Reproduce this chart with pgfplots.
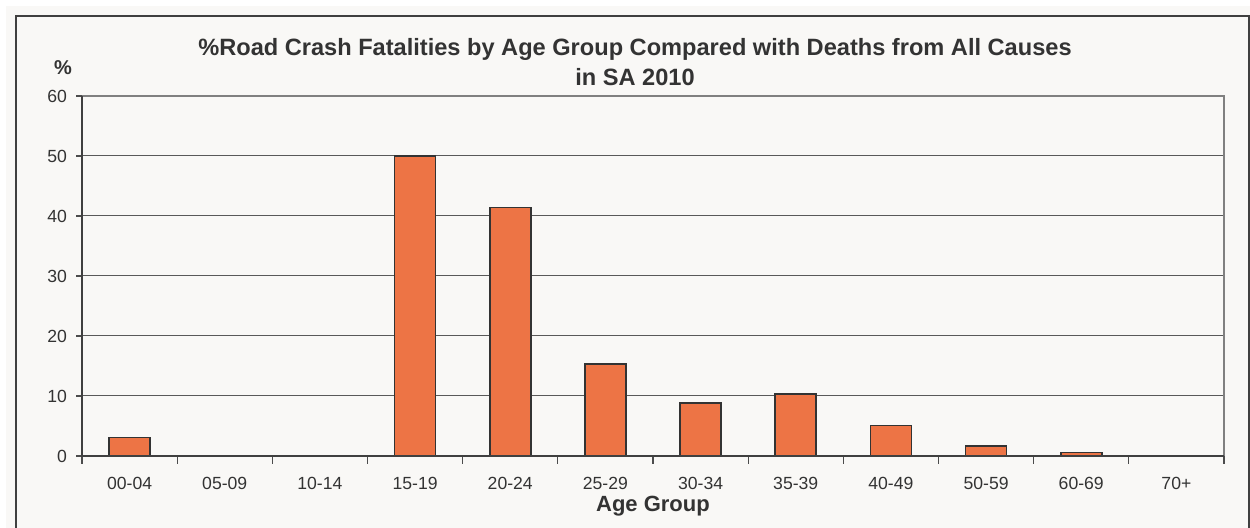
\documentclass[border=0pt]{standalone}
\usepackage{pgfplots}
\pgfplotsset{compat=1.18}
\usepackage{fontspec}
\setmainfont{Liberation Sans}
\definecolor{bgc}{RGB}{249,248,246}
\definecolor{barc}{RGB}{237,116,69}
\definecolor{txt}{RGB}{51,51,51}

\begin{document}
\begin{tikzpicture}
% page 1250x528 px at 0.5pt/px
\useasboundingbox (0,0) rectangle (625pt,264pt);
\fill[white] (0,0) rectangle (625pt,264pt);
\fill[bgc] (3pt,0) rectangle (625pt,261pt);
\draw[line width=0.7pt, black!75] (8pt,0pt) -- (8pt,256pt) -- (624.5pt,256pt) -- (624.5pt,0pt);
\begin{axis}[
  at={(41pt,36pt)}, anchor=south west,
  scale only axis, width=571pt, height=180pt,
  xmin=-0.5, xmax=11.5, ymin=0, ymax=60,
  ytick={0,10,...,60},
  xtick={0,...,11},
  xticklabels={00-04,05-09,10-14,15-19,20-24,25-29,30-34,35-39,40-49,50-59,60-69,70+},
  minor xtick={-0.5,0.5,...,11.5},
  major x tick style={draw=none},
  minor tick length=4pt, major tick length=3pt,
  tick align=outside, tick pos=left,
  tick style={black!70, line width=0.6pt},
  ymajorgrids, grid style={black!65, line width=0.5pt},
  axis line style={draw=none},
  ticklabel style={font=\fontsize{8.8}{10}\selectfont, text=txt},
  xticklabel style={yshift=-4pt},
  yticklabel style={xshift=-1pt},
  /pgf/number format/assume math mode=true,
  ybar, bar width=0.43,
  clip=false,
]
\addplot[fill=barc, draw=black!80, line width=0.8pt] coordinates {
  (0,3.1) (1,0) (2,0) (3,50) (4,41.4) (5,15.3)
  (6,8.8) (7,10.3) (8,5.05) (9,1.7) (10,0.55) (11,0)
};
\draw[black!50, line width=0.8pt] (axis cs:-0.5,60) -- (axis cs:11.5,60) -- (axis cs:11.5,0);
\draw[black!75, line width=0.8pt] (axis cs:-0.5,60) -- (axis cs:-0.5,0) -- (axis cs:11.5,0);
\end{axis}
\node[font=\bfseries\fontsize{11.8}{15}\selectfont, text=txt, align=center] at (317.5pt,233pt)
  {\%Road Crash Fatalities by Age Group Compared with Deaths from All Causes\\in SA 2010};
\node[font=\bfseries\fontsize{10}{12}\selectfont, text=txt] at (31.5pt,230pt) {\%};
\node[font=\bfseries\fontsize{11}{13}\selectfont, text=txt] at (326.5pt,11pt) {Age Group};
\end{tikzpicture}
\end{document}
